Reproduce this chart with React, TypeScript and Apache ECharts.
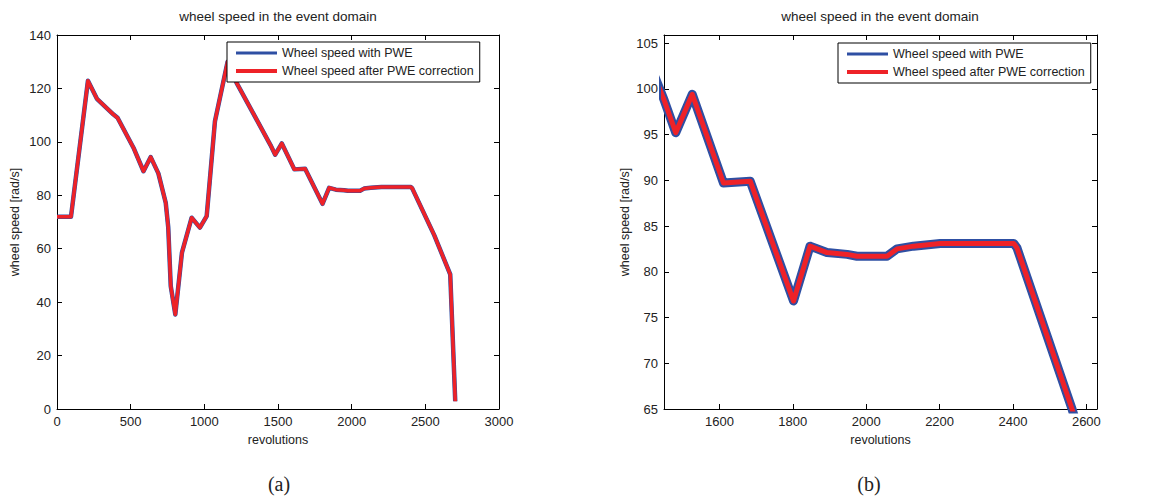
import React, { useEffect, useRef } from "react";
import * as echarts from "echarts";

// ---- data ----
const revolutions = [
  0, 95, 210, 271, 384, 411, 519, 587, 636, 688, 738, 755, 772, 803, 848, 914, 970, 1016,
  1072, 1158, 1219, 1449, 1481, 1526, 1611, 1684, 1802, 1847, 1893, 1948, 1975, 2057, 2084,
  2129, 2202, 2311, 2402, 2411, 2561, 2669, 2703,
];
const speedWithPWE = [
  72.0, 72.0, 122.9, 116.1, 110.2, 109.0, 97.8, 89.0, 94.3, 88.2, 77.2, 68.0, 46.0, 35.4, 58.5,
  71.6, 67.9, 72.2, 107.7, 130.0, 122.1, 98.8, 95.2, 99.4, 89.7, 89.9, 76.8, 82.8, 82.1, 81.9,
  81.7, 81.7, 82.5, 82.8, 83.1, 83.1, 83.1, 82.6, 65.0, 50.4, 2.9,
];
const speedCorrected = [
  72.0, 72.0, 122.9, 116.1, 110.2, 109.0, 97.8, 89.0, 94.3, 88.2, 77.2, 68.0, 46.0, 35.4, 58.5,
  71.6, 67.9, 72.2, 107.7, 130.0, 122.1, 98.8, 95.2, 99.4, 89.7, 89.9, 76.8, 82.8, 82.1, 81.9,
  81.7, 81.7, 82.5, 82.8, 83.1, 83.1, 83.1, 82.6, 65.0, 50.4, 2.9,
];
const rightXTicks = [1600, 1800, 2000, 2200, 2400, 2600];

const seriesNames = ["Wheel speed with PWE", "Wheel speed after PWE correction"];
const titleText = "wheel speed in the event domain";
const xName = "revolutions";
const yName = "wheel speed [rad/s]";
const captions = ["(a)", "(b)"];

const FONT = '"Liberation Sans", Arial, Helvetica, sans-serif';
const SERIF = '"Liberation Serif", "DejaVu Serif", serif';
const TXT = "#222";
const BLUE = "#2e4fa3";
const RED = "#ee2228";

export default function App() {
  const ref = useRef<HTMLDivElement>(null);

  useEffect(() => {
    const chart = echarts.init(ref.current!, null, { renderer: "svg" });
    const blueData = revolutions.map((r, i) => [r, speedWithPWE[i]]);
    const redData = revolutions.map((r, i) => [r, speedCorrected[i]]);

    const grids = [
      { left: 57, top: 35, width: 442, height: 374 },
      { left: 664, top: 35, width: 433, height: 374 },
    ];

    const fmt = (v: number) => String(v);
    const lineAx = { show: true, onZero: false, lineStyle: { color: "#000", width: 1 } };
    const tick = { show: true, inside: true, length: 5, lineStyle: { color: "#000", width: 1 } };
    const lbl = { color: TXT, fontSize: 13, fontFamily: FONT, formatter: fmt };
    const nameStyle = { color: TXT, fontSize: 12.5, fontFamily: FONT };

    const xAxis: any[] = [
      {
        gridIndex: 0, type: "value", position: "bottom", min: 0, max: 3000, interval: 500,
        axisLine: lineAx, axisTick: tick, splitLine: { show: false },
        axisLabel: { ...lbl, margin: 6 },
        name: xName, nameLocation: "middle", nameGap: 24, nameTextStyle: nameStyle,
      },
      {
        gridIndex: 0, type: "value", position: "top", min: 0, max: 3000, interval: 500,
        axisLine: lineAx, axisTick: tick, splitLine: { show: false }, axisLabel: { show: false },
      },
      {
        gridIndex: 1, type: "value", position: "bottom", min: 1449, max: 2629,
        axisLine: lineAx,
        axisTick: { ...tick, customValues: rightXTicks },
        splitLine: { show: false },
        axisLabel: { ...lbl, margin: 6, customValues: rightXTicks },
        name: xName, nameLocation: "middle", nameGap: 24, nameTextStyle: nameStyle,
      },
      {
        gridIndex: 1, type: "value", position: "top", min: 1449, max: 2629,
        axisLine: lineAx, axisTick: { ...tick, customValues: rightXTicks },
        splitLine: { show: false }, axisLabel: { show: false, customValues: rightXTicks },
      },
    ];

    const yAxis: any[] = [
      {
        gridIndex: 0, type: "value", position: "left", min: 0, max: 140, interval: 20,
        axisLine: lineAx, axisTick: tick, splitLine: { show: false },
        axisLabel: { ...lbl, margin: 6 },
        name: yName, nameLocation: "middle", nameGap: 36, nameTextStyle: nameStyle,
      },
      {
        gridIndex: 0, type: "value", position: "right", min: 0, max: 140, interval: 20,
        axisLine: lineAx, axisTick: tick, splitLine: { show: false }, axisLabel: { show: false },
      },
      {
        gridIndex: 1, type: "value", position: "left", min: 65, max: 105.88, interval: 5,
        axisLine: lineAx, axisTick: tick, splitLine: { show: false },
        axisLabel: { ...lbl, margin: 6, showMaxLabel: false },
        name: yName, nameLocation: "middle", nameGap: 33, nameTextStyle: nameStyle,
      },
      {
        gridIndex: 1, type: "value", position: "right", min: 65, max: 105.88, interval: 5,
        axisLine: lineAx, axisTick: tick, splitLine: { show: false }, axisLabel: { show: false },
      },
    ];

    const mkSeries = (name: string, data: number[][], xi: number, yi: number, color: string, width: number) => ({
      name, type: "line", xAxisIndex: xi, yAxisIndex: yi, data,
      symbol: "none", showSymbol: false, clip: true,
      lineStyle: { color, width, join: "round", cap: "butt" },
      itemStyle: { color },
      emphasis: { disabled: true },
    });

    const series = [
      mkSeries(seriesNames[0], blueData, 0, 0, BLUE, 4.5),
      mkSeries(seriesNames[1], redData, 0, 0, RED, 3.5),
      mkSeries(seriesNames[0], blueData, 2, 2, BLUE, 9),
      mkSeries(seriesNames[1], redData, 2, 2, RED, 5),
    ];

    const blueIcon = "path://M0,0h0.01v0.01h-0.01zM0,5.5h41v3h-41zM0,13.99h0.01v0.01h-0.01z";
    const redIcon = "path://M0,0h0.01v0.01h-0.01zM0,5h41v4h-41zM0,13.99h0.01v0.01h-0.01z";

    const mkLegend = (left: number, top: number) => ({
      left, top, orient: "vertical",
      backgroundColor: "#fff", borderColor: "#000", borderWidth: 1, borderRadius: 0,
      padding: [4, 6, 4, 9], itemGap: 4, itemWidth: 41, itemHeight: 14,
      textStyle: { color: TXT, fontSize: 12.5, fontFamily: FONT, lineHeight: 14 },
      data: [
        { name: seriesNames[0], icon: blueIcon, itemStyle: { color: BLUE } },
        { name: seriesNames[1], icon: redIcon, itemStyle: { color: RED } },
      ],
      selectedMode: false,
    });

    const txt = (text: string, x: number, y: number, size: number, font: string) => ({
      type: "text", x, y,
      style: { text, fill: TXT, font: `${size}px ${font}`, textAlign: "center", textVerticalAlign: "middle" },
    });

    chart.setOption({
      animation: false,
      backgroundColor: "#fff",
      grid: grids,
      xAxis, yAxis, series,
      legend: [mkLegend(227, 42), mkLegend(838, 43)],
      graphic: [
        txt(titleText, 278, 16, 13.5, FONT),
        txt(titleText, 880, 16, 13.5, FONT),
        txt(captions[0], 279, 484, 20, SERIF),
        txt(captions[1], 869, 484, 20, SERIF),
      ],
    });
    return () => chart.dispose();
  }, []);

  return (
    <div
      ref={ref}
      style={{ position: "absolute", left: 0, top: 0, width: 1153, height: 499, background: "#fff" }}
    />
  );
}
